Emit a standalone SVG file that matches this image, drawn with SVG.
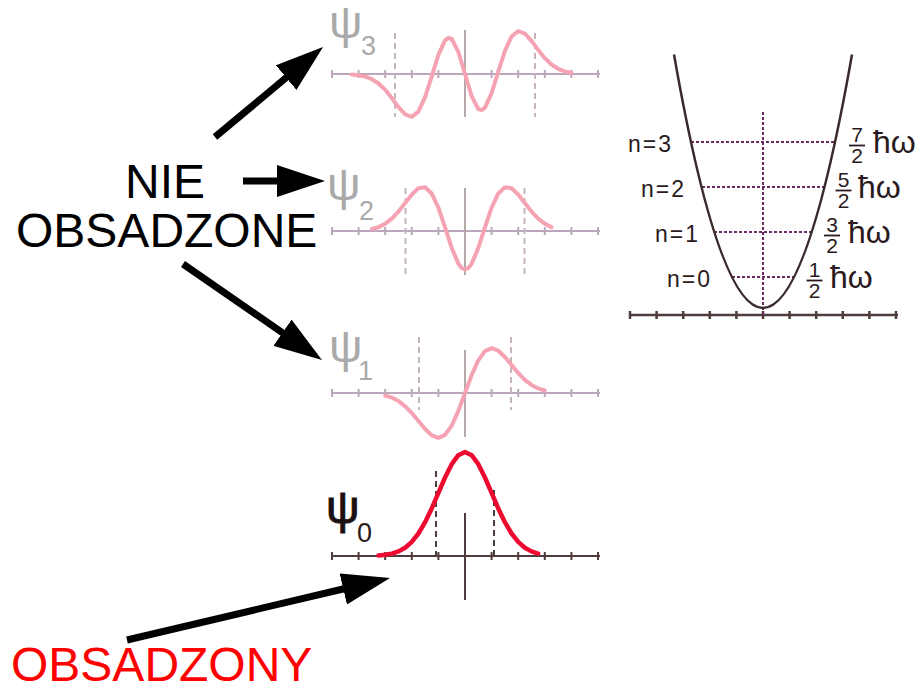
<svg xmlns="http://www.w3.org/2000/svg" xmlns:xlink="http://www.w3.org/1999/xlink" width="916" height="686" viewBox="0 0 916 686">
<style>
.fa{stroke:#bba6bb;stroke-width:2;fill:none}
.fc{stroke:#f5a3b3;stroke-width:4;fill:none;stroke-linejoin:round;stroke-linecap:round}
.fd{stroke:#c6b4bc;stroke-width:2;stroke-dasharray:6 4;fill:none}
.fz{stroke:#b4a8a8;stroke-width:2}
.da{stroke:#4d3d3d;stroke-width:2;fill:none}
.dd{stroke:#4d3d3d;stroke-width:2;stroke-dasharray:6 4;fill:none}
.rc{stroke:#ec0a30;stroke-width:4.5;fill:none;stroke-linejoin:round;stroke-linecap:round}
.psi{font-family:"Liberation Sans",Arial,sans-serif;font-size:47px}
.sub{font-family:"Liberation Sans",Arial,sans-serif;font-size:27px}
.gf{fill:#a9a9a9}
.big{font-family:"Liberation Sans",Arial,sans-serif;font-size:48px}
.lbl{font-family:"Liberation Sans",Arial,sans-serif;font-size:23px;letter-spacing:2px;fill:#2a1a20}
.num{font-family:"Liberation Sans",Arial,sans-serif;font-size:21px;fill:#2a1a20;text-anchor:middle}
.hw{font-family:"Liberation Sans",Arial,sans-serif;font-size:32px;fill:#2a1a20}
.lev{stroke:#6a2a60;stroke-width:2;stroke-dasharray:3 2;fill:none}
.bar{stroke:#2a1a20;stroke-width:1.8}
.arr{stroke:#000;stroke-width:7;fill:none;marker-end:url(#ah)}
</style>
<defs>
<marker id="ah" viewBox="0 0 48 32" refX="2" refY="16" markerWidth="48" markerHeight="32" markerUnits="userSpaceOnUse" orient="auto">
<path d="M0,0L48,16L0,32z" fill="#000"/>
</marker>
<path id="axis" d="M331,0H600M332,-4v8M358.6,-4v8M385.2,-4v8M411.8,-4v8M438.4,-4v8M465,-4v8M491.6,-4v8M518.2,-4v8M544.8,-4v8M571.4,-4v8M598,-4v8"/>
</defs>

<g id="psi3">
<use xlink:href="#axis" class="fa" transform="translate(0,74)"/>
<line class="fz" x1="465" y1="30" x2="465" y2="117"/>
<line class="fd" x1="395" y1="33" x2="395" y2="117"/>
<line class="fd" x1="535" y1="33" x2="535" y2="117"/>
<polyline class="fc" points="352,74.5 358.6,75.2 365.25,76.6 371.9,79.2 378.55,83.5 385.2,89.85 391.85,98.1 398.5,107.1 405.15,114.45 411.8,116.9 418.45,111.5 425.1,97.2 431.75,76.3 438.4,54.8 445.05,40.4 448.4,37.8 451.7,39 458.35,51.9 465,74 471.65,96.1 478.3,109 481.6,110.2 484.95,107.6 491.6,93.2 498.25,71.7 504.9,50.8 511.55,36.5 518.2,31.1 524.85,33.55 531.5,40.9 538.15,49.9 544.8,58.15 551.45,64.5 558.1,68.8 564.75,71.4 571.4,72.8"/>
<text class="psi gf" x="329" y="38">ψ</text>
<text class="sub gf" x="361" y="55">3</text>
</g>

<g id="psi2">
<use xlink:href="#axis" class="fa" transform="translate(0,231)"/>
<line class="fz" x1="465" y1="188" x2="465" y2="275"/>
<line class="fd" x1="405.5" y1="188" x2="405.5" y2="275"/>
<line class="fd" x1="524.5" y1="188" x2="524.5" y2="275"/>
<polyline class="fc" points="371.9,229 378.55,227.1 385.2,223.7 391.85,218.6 398.5,211.55 405.15,203 411.8,194.5 418.45,188.3 425.1,187.25 431.75,193.55 438.4,207.65 445.05,227.4 451.7,248 458.35,263.65 461.675,268 465,269.5 468.325,268 471.65,263.65 478.3,248 484.95,227.4 491.6,207.65 498.25,193.55 504.9,187.25 511.55,188.3 518.2,194.5 524.85,203 531.5,211.55 538.15,218.6 544.8,223.7 551.45,227.1"/>
<text class="psi gf" x="327" y="200">ψ</text>
<text class="sub gf" x="359" y="220">2</text>
</g>

<g id="psi1">
<use xlink:href="#axis" class="fa" transform="translate(0,393)"/>
<line class="fz" x1="465" y1="350" x2="465" y2="437"/>
<line class="fd" x1="419" y1="337" x2="419" y2="410"/>
<line class="fd" x1="511" y1="337" x2="511" y2="410"/>
<polyline class="fc" points="385.2,395.5 391.85,397.6 398.5,401.1 405.15,406.3 411.8,413 418.45,421 425.1,429 431.75,435.4 438.4,437.9 445.05,434.9 451.7,425.7 458.35,410.9 465,393 471.65,375.1 478.3,360.3 484.95,351.1 491.6,348.1 498.25,350.7 504.9,357 511.55,365 518.2,373 524.85,379.8 531.5,384.9 538.15,388.4 544.8,390.5"/>
<text class="psi gf" x="329" y="362">ψ</text>
<text class="sub gf" x="358" y="380">1</text>
</g>

<g id="psi0">
<use xlink:href="#axis" class="da" transform="translate(0,556)"/>
<line class="da" x1="465" y1="513" x2="465" y2="600"/>
<line class="dd" x1="436" y1="471" x2="436" y2="556"/>
<line class="dd" x1="494" y1="490" x2="494" y2="556"/>
<polyline class="rc" points="378.55,555.5 385.2,554.8 391.85,553.6 398.5,551.4 405.15,547.7 411.8,541.9 418.45,533.5 425.1,522.2 431.75,508.4 438.4,492.9 445.05,477.5 451.7,464.2 458.35,455.2 465,452 471.65,455.2 478.3,464.2 484.95,477.5 491.6,492.9 498.25,508.4 504.9,522.2 511.55,533.5 518.2,541.9 524.85,547.7 531.5,551.4 538.15,553.6"/>
<text class="psi" x="326" y="523" fill="#1a1010" stroke="#1a1010" stroke-width="1">ψ</text>
<text class="sub" x="357" y="542" fill="#2a1a1a">0</text>
</g>

<g id="potential">
<use xlink:href="#axis" class="da" transform="translate(298,315)" style="stroke-width:2.5"/>
<line class="lev" x1="763" y1="112" x2="763" y2="315"/>
<line class="lev" x1="691" y1="142" x2="835" y2="142"/>
<line class="lev" x1="702" y1="187" x2="824" y2="187"/>
<line class="lev" x1="714" y1="232" x2="812" y2="232"/>
<line class="lev" x1="732" y1="277" x2="794" y2="277"/>
<path d="M674,54.5Q763,561.5 852,54.5" fill="none" stroke="#3a2a2a" stroke-width="2.5"/>
<text class="lbl" x="628" y="152">n=3</text>
<text class="lbl" x="641" y="197">n=2</text>
<text class="lbl" x="655" y="242">n=1</text>
<text class="lbl" x="667" y="287">n=0</text>
<text class="num" x="857" y="142">7</text>
<line class="bar" x1="849" y1="145.5" x2="865" y2="145.5"/>
<text class="num" x="857" y="163">2</text>
<text class="hw" x="873" y="153">ħω</text>
<text class="num" x="843.5" y="187">5</text>
<line class="bar" x1="835.5" y1="190.5" x2="851.5" y2="190.5"/>
<text class="num" x="843.5" y="208">2</text>
<text class="hw" x="858" y="198">ħω</text>
<text class="num" x="832" y="232">3</text>
<line class="bar" x1="824" y1="235.5" x2="840" y2="235.5"/>
<text class="num" x="832" y="253">2</text>
<text class="hw" x="848" y="243">ħω</text>
<text class="num" x="814.5" y="277">1</text>
<line class="bar" x1="806.5" y1="280.5" x2="822.5" y2="280.5"/>
<text class="num" x="814.5" y="298">2</text>
<text class="hw" x="830" y="288">ħω</text>
</g>

<g id="label-nie">
<text class="big" x="125" y="198" fill="#000">NIE</text>
<text class="big" x="16" y="247" fill="#000">OBSADZONE</text>
</g>

<g id="label-obsadzony">
<text class="big" x="11" y="681" fill="#ff0000">OBSADZONY</text>
</g>

<g id="connectors">
<line class="arr" x1="215" y1="137" x2="287.7" y2="76.4"/>
<line class="arr" x1="243" y1="181" x2="279" y2="181"/>
<line class="arr" x1="183" y1="264" x2="284.1" y2="333.9"/>
<line class="arr" x1="127" y1="640" x2="345.2" y2="588.5"/>
</g>
</svg>
